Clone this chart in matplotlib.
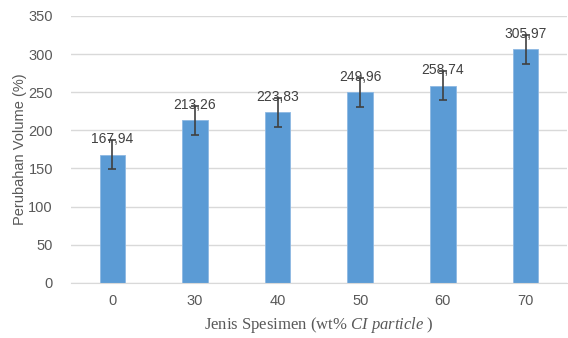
import numpy as np
import matplotlib
matplotlib.use("Agg")
import matplotlib.pyplot as plt

# data
specimens = ["0", "30", "40", "50", "60", "70"]
volume_change = [167.94, 213.26, 223.83, 249.96, 258.74, 305.97]
errors = [19, 19, 19, 19, 19, 19]
value_labels = ["167,94", "213,26", "223,83", "249,96", "258,74", "305,97"]

plt.rcParams['font.family'] = ['Liberation Sans', 'DejaVu Sans']
plt.rcParams['mathtext.fontset'] = 'custom'
plt.rcParams['mathtext.rm'] = 'Liberation Serif'
plt.rcParams['mathtext.it'] = 'Liberation Serif:italic'

text_col = '#595959'
fig = plt.figure(figsize=(5.68, 3.38), dpi=100)
ax = fig.add_axes([0.125, 0.163, 0.873, 0.79])

x = np.arange(len(specimens))
ax.bar(x, volume_change, width=0.31, color='#5B9BD5', edgecolor='#8DB8E3',
       linewidth=0.6, zorder=2)
ax.errorbar(x, volume_change, yerr=errors, fmt='none', ecolor='#404040',
            elinewidth=1.2, capsize=2.8, capthick=1.2, zorder=3)

for xi, v, lab in zip(x, volume_change, value_labels):
    ax.annotate(lab, (xi, v), xytext=(0, 6), textcoords='offset points',
                ha='center', va='bottom', fontsize=10, color='#404040', zorder=4)

ax.set_xlim(-0.5, 5.5)
ax.set_ylim(0, 350)
ax.set_yticks(np.arange(0, 351, 50))
ax.set_xticks(x)
ax.set_xticklabels(specimens)
ax.grid(axis='y', color='#D9D9D9', linewidth=1, zorder=0)
ax.set_axisbelow(True)
for s in ['top', 'right', 'left']:
    ax.spines[s].set_visible(False)
ax.spines['bottom'].set_color('#D9D9D9')
ax.tick_params(length=0, labelsize=10.5, colors=text_col, pad=8)
ax.tick_params(axis='y', pad=13)

ax.set_ylabel('Perubahan Volume (%)', fontsize=10.5, color=text_col, labelpad=1)
ax.set_xlabel(r'Jenis Spesimen (wt% $\mathit{CI\ particle}$ )', fontsize=12,
              color=text_col, labelpad=5, family='Liberation Serif')

fig.savefig('out.png', dpi=100)
